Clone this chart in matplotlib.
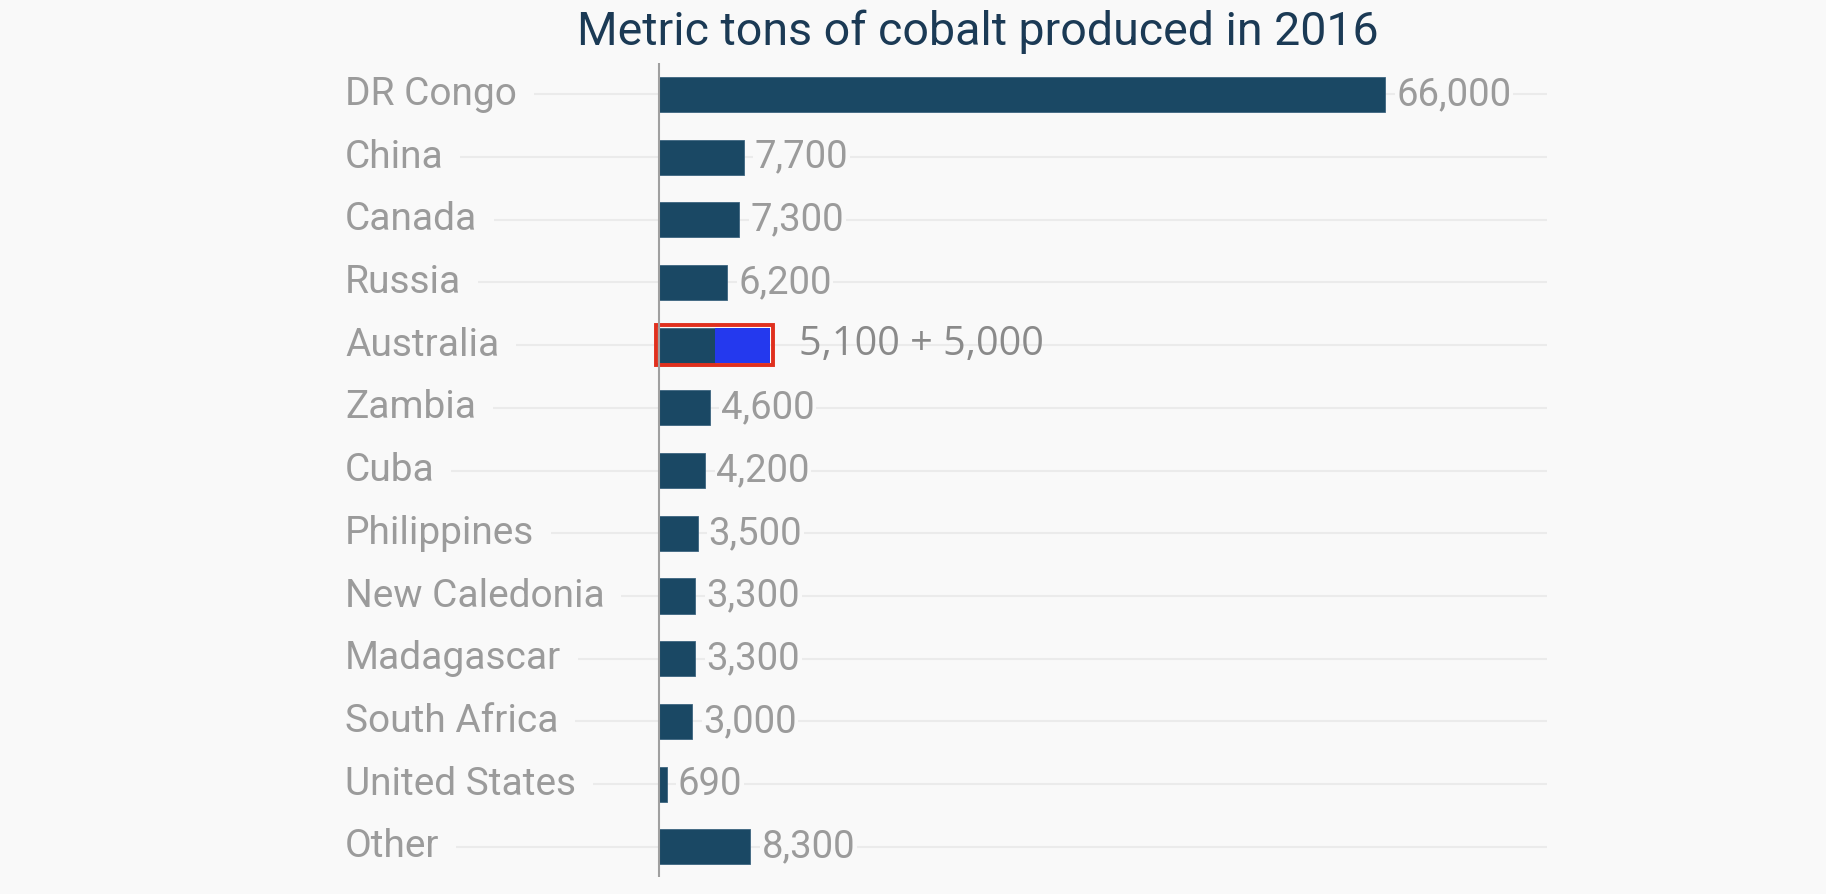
import matplotlib.pyplot as plt
from matplotlib.patches import Rectangle

countries = ['DR Congo', 'China', 'Canada', 'Russia', 'Australia', 'Zambia', 'Cuba',
             'Philippines', 'New Caledonia', 'Madagascar', 'South Africa',
             'United States', 'Other']
tons = [66000, 7700, 7300, 6200, 5100, 4600, 4200, 3500, 3300, 3300, 3000, 690, 8300]
value_labels = ['66,000', '7,700', '7,300', '6,200', '5,100 + 5,000', '4,600', '4,200',
                '3,500', '3,300', '3,300', '3,000', '690', '8,300']
australia_extra = 5000
highlight = 'Australia'

bg = '#f9f9f9'
bar_color = '#1a4864'
label_color = '#9b9b9b'

W, H = 1826, 894
fig = plt.figure(figsize=(W / 100, H / 100), dpi=100, facecolor=bg)

# axes from the left edge of the labels to the end of the gridlines
left_px, right_px, zero_px, full_px = 345, 1547, 659, 1385
top_px, bottom_px = 63, 877
ax = fig.add_axes([left_px / W, 1 - bottom_px / H,
                   (right_px - left_px) / W, (bottom_px - top_px) / H])
ax.set_facecolor(bg)
scale = tons[0] / (full_px - zero_px)
xmin = -(zero_px - left_px) * scale
xmax = (right_px - zero_px) * scale
ax.set_xlim(xmin, xmax)
ax.set_ylim(len(countries) - 0.52, -0.5)
ax.axis('off')

ypos = list(range(len(countries)))
ax.hlines(ypos, xmin, xmax, color='#ebebeb', lw=1.5, zorder=0)
ax.vlines(0, len(countries) - 0.52, -0.5, color='#a0a0a0', lw=1.5, zorder=4)

bar_h = 0.56
ax.barh(ypos, tons, height=bar_h, color=bar_color, edgecolor='#3d6580', lw=0.6, zorder=2)

# Australia: stacked extra part with a red frame slightly larger than the bar
i_h = countries.index(highlight)
total_h = tons[i_h] + australia_extra
ax.barh(i_h, australia_extra, left=tons[i_h], height=bar_h, color='#2439ee', zorder=2)
pad_x, pad_y = 3 * scale, 0.035
ax.add_patch(Rectangle((-pad_x, i_h - bar_h / 2 - pad_y),
                       total_h + 2 * pad_x, bar_h + 2 * pad_y,
                       fill=False, edgecolor='#e0301e', lw=2.8, zorder=3))

fonts = ['Roboto', 'DejaVu Sans']
for i, name in enumerate(countries):
    ax.text(xmin, i, name, ha='left', va='center', fontsize=28, color=label_color,
            family=fonts, zorder=3,
            bbox=dict(facecolor=bg, edgecolor='none', pad=12))

for i, lab in enumerate(value_labels):
    if countries[i] == highlight:
        ax.annotate(lab, (total_h, i), xytext=(21, 0),
                    textcoords='offset points', ha='left', va='center',
                    fontsize=28.5, color='#8a8a8a', family=['Open Sans', 'DejaVu Sans'],
                    zorder=3)
    else:
        ax.annotate(lab, (tons[i], i), xytext=(8, 0), textcoords='offset points',
                    ha='left', va='center', fontsize=27.5, color=label_color,
                    family=fonts, zorder=3,
                    bbox=dict(facecolor=bg, edgecolor='none', pad=1))

fig.text(978 / W, 1 - 32 / H, 'Metric tons of cobalt produced in 2016', ha='center',
         va='center', fontsize=33.5, color='#1b3a55', family=fonts)

fig.savefig('out.png', dpi=100, facecolor=bg)
